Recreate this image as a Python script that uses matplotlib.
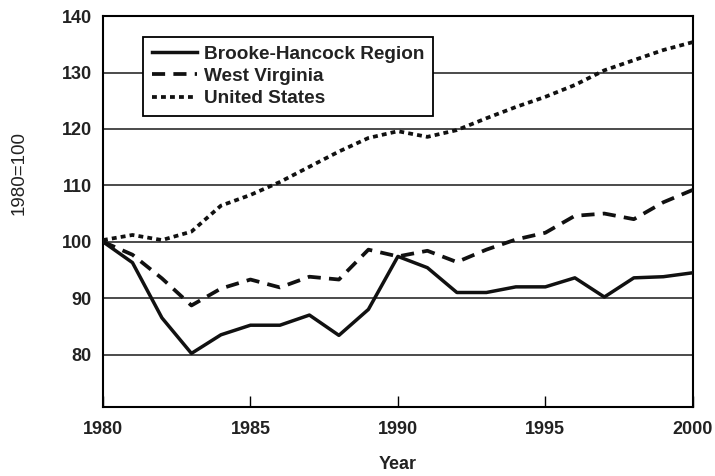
import matplotlib
matplotlib.use("Agg")
import matplotlib.pyplot as plt

years = list(range(1980, 2001))
brooke_hancock = [100, 96.3, 86.5, 80.2, 83.5, 85.2, 85.2, 87.0, 83.4, 88.0, 97.4,
                  95.4, 91.0, 91.0, 92.0, 92.0, 93.6, 90.2, 93.6, 93.8, 94.5]
west_virginia = [100, 97.7, 93.5, 88.7, 91.7, 93.3, 91.9, 93.8, 93.3, 98.6, 97.4,
                 98.4, 96.4, 98.6, 100.4, 101.6, 104.6, 105.0, 104.0, 107.0, 109.2]
united_states = [100.3, 101.2, 100.3, 101.8, 106.4, 108.3, 110.6, 113.3, 116.0, 118.4, 119.6,
                 118.6, 119.8, 121.9, 123.9, 125.7, 127.8, 130.4, 132.2, 134.0, 135.4]
series_labels = ["Brooke-Hancock Region", "West Virginia", "United States"]
x_ticks = [1980, 1985, 1990, 1995, 2000]
y_ticks = [80, 90, 100, 110, 120, 130, 140]

plt.rcParams['font.family'] = ['Liberation Sans', 'DejaVu Sans']

fig = plt.figure(figsize=(7.15, 4.76), dpi=100)
ax = fig.add_axes([0.144, 0.145, 0.825, 0.821])

for y in y_ticks[:-1]:
    ax.axhline(y, color='#1a1a1a', lw=1.1, zorder=1)

ax.plot(years, brooke_hancock, color='#111111', lw=2.5, label=series_labels[0], zorder=3)
ax.plot(years, west_virginia, color='#111111', lw=2.7, dashes=(3.5, 2.2), label=series_labels[1], zorder=3)
ax.plot(years, united_states, color='#111111', lw=2.7, dashes=(1.3, 1.1), label=series_labels[2], zorder=3)

ax.set_xlim(1980, 2000)
ax.set_ylim(70.7, 140)
ax.set_xticks(x_ticks)
ax.set_yticks(y_ticks)
ax.set_xticklabels([str(t) for t in x_ticks], fontsize=13, fontweight='bold', color='#222222')
ax.set_yticklabels([str(t) for t in y_ticks], fontsize=13, fontweight='bold', color='#222222')
ax.tick_params(axis='x', direction='in', length=8, width=1, pad=10)
ax.tick_params(axis='y', length=0, pad=8)
for s in ax.spines.values():
    s.set_linewidth(1.5)

ax.set_xlabel("Year", fontsize=13, fontweight='bold', color='#222222', labelpad=13)
ax.set_ylabel("1980=100", fontsize=13.5, color='#222222')
ax.yaxis.set_label_coords(-0.128, 0.6)

leg = ax.legend(loc='upper left', bbox_to_anchor=(0.068, 0.947), frameon=True, fancybox=False,
                edgecolor='black', handlelength=2.4, borderpad=0.45, borderaxespad=0,
                labelspacing=0.26, handletextpad=0.35,
                prop={'weight': 'bold', 'size': 13.7})
leg.get_frame().set_linewidth(1.3)
leg.get_frame().set_alpha(1)
for t in leg.get_texts():
    t.set_color('#222222')

fig.savefig("out.png", dpi=100)
